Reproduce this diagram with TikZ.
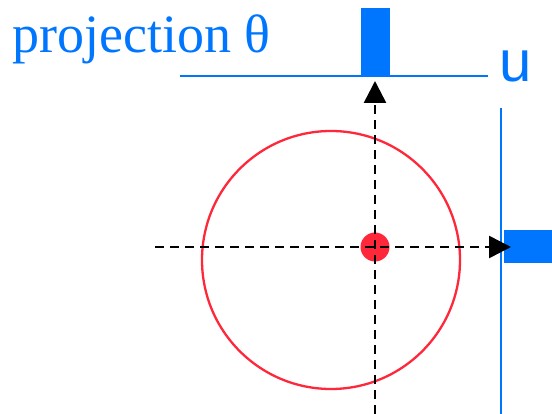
\documentclass[tikz,border=0pt]{standalone}
\usepackage{fontspec}
\setmainfont{Liberation Serif}
\setsansfont{Liberation Sans}
\definecolor{projblue}{RGB}{0, 118, 255}
\definecolor{projred}{RGB}{255, 40, 58}
\usetikzlibrary{arrows.meta, positioning}

\begin{document}
\begin{tikzpicture}[x=1pt, y=-1pt,
    axis/.style={black, line width=2.6pt, dash pattern=on 9pt off 6pt,
      -{Triangle[length=22pt, width=22pt]}},
    projline/.style={projblue, line width=2.8pt},
    bar/.style={fill=projblue, draw=none, inner sep=0pt}]
  \useasboundingbox (0,0) rectangle (552,414);

  % title and axis name
  \node[anchor=base west, inner sep=0pt, text=projblue,
    font=\fontsize{54}{60}\selectfont] (title) at (12,53) {projection θ};
  \node[anchor=base west, inner sep=0pt, text=projblue,
    font=\sffamily\fontsize{58}{64}\selectfont] (u) at (499,82) {u};

  % disk and its centre
  \node[circle, draw=projred, line width=2.3pt, minimum size=258pt,
    inner sep=0pt] (disk) at (331,260) {};
  \node[circle, fill=projred, minimum size=29pt, inner sep=0pt] (centre) at (375,247) {};

  % projection lines and bars
  \coordinate (topleft) at (180,76);
  \coordinate (topright) at (488,76);
  \coordinate (sidetop) at (501,108);
  \coordinate (sidebottom) at (501,414);
  \draw[projline] (topleft) -- (topright);
  \draw[projline] (sidetop) -- (sidebottom);
  \node[bar, minimum width=29pt, minimum height=69pt, anchor=south west] (topbar) at (361,77) {};
  \node[bar, minimum width=48pt, minimum height=33pt, anchor=west] (sidebar) at (504,247) {};

  % axes
  \coordinate (hstart) at (155,247);
  \coordinate (hend) at (511,247);
  \coordinate (vstart) at (375,414);
  \coordinate (vend) at (375,81);
  \draw[axis] (hstart) -- (hend);
  \draw[axis] (vstart) -- (vend);
\end{tikzpicture}
\end{document}
